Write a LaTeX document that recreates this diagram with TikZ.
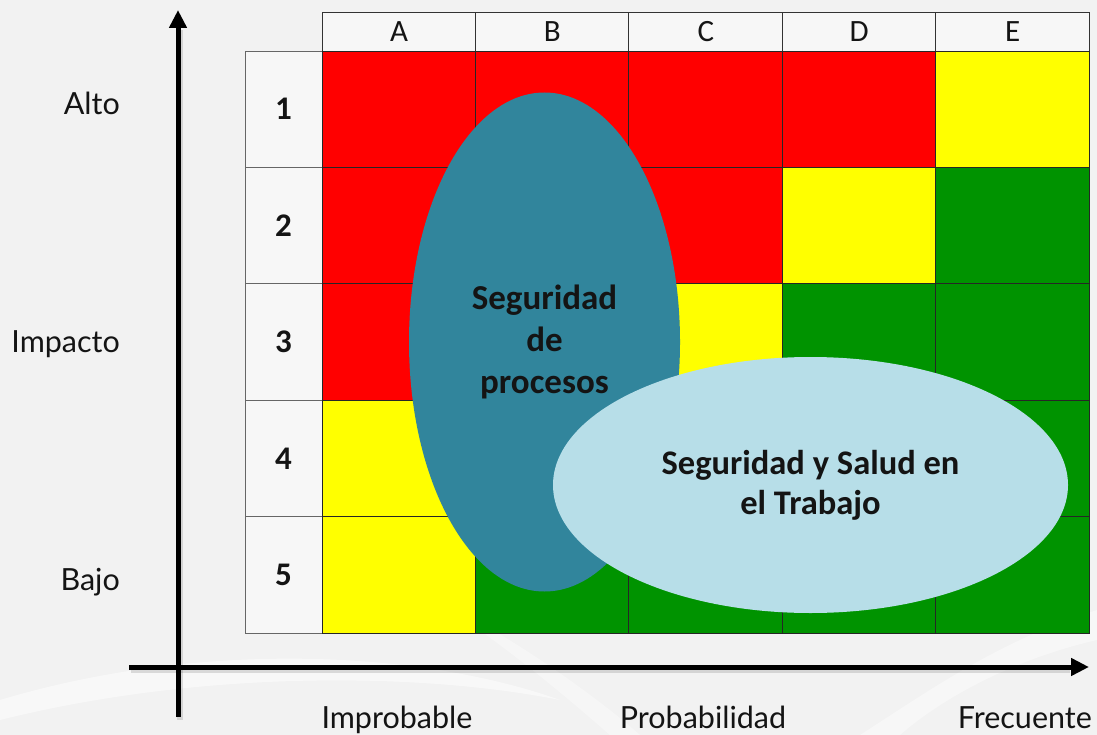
\documentclass[tikz,border=0pt]{standalone}
\usepackage{fontspec}
\setmainfont{Carlito}
\newfontfamily\labelfont{Lato}
\usetikzlibrary{shapes.geometric,arrows.meta}
\definecolor{bgc}{HTML}{F2F2F2}
\definecolor{cellbg}{HTML}{F7F7F7}
\definecolor{rd}{HTML}{FF0000}
\definecolor{yl}{HTML}{FFFF00}
\definecolor{gn}{HTML}{009300}
\definecolor{teal1}{HTML}{31859C}
\definecolor{lblue}{HTML}{B7DEE8}
\definecolor{txt}{HTML}{141414}
\begin{document}
\begin{tikzpicture}[x=1pt,y=-1pt,
  cell/.style={draw=black!85, line width=0.9pt, inner sep=0pt, outer sep=0pt,
    minimum width=153.4pt, minimum height=116.4pt, anchor=north west},
  headcell/.style={draw=black!80, line width=0.9pt, fill=cellbg, inner sep=0pt, outer sep=0pt,
    minimum width=153.4pt, minimum height=39pt, anchor=north west, text=txt},
  headtext/.style={inner sep=0pt, text=txt, anchor=base, font=\fontsize{31}{34}\selectfont},
  rowcell/.style={draw=black!60, line width=0.9pt, fill=cellbg, inner sep=0pt, outer sep=0pt,
    minimum width=77pt, minimum height=116.4pt, anchor=north west,
    font=\bfseries\fontsize{33}{36}\selectfont, text=txt},
  axisline/.style={line width=5pt, black, -{Triangle[length=18pt,width=17pt]}},
  axisshadow/.style={line width=6pt, black, opacity=0.12},
  lbl/.style={font=\labelfont\fontsize{30.5}{36}\selectfont, text=txt, inner sep=0pt},
  blob/.style={ellipse, inner sep=0pt, align=center, text=txt}
]
\useasboundingbox (0,0) rectangle (1097,735);
\fill[bgc] (0,0) rectangle (1097,735);
% faint background swooshes
\fill[white, opacity=0.5] (0,700) .. controls (200,640) and (420,650) .. (560,700) .. controls (420,672) and (200,670) .. (0,720) -- cycle;
\fill[white, opacity=0.35] (420,590) .. controls (520,640) and (600,700) .. (640,735) -- (610,735) .. controls (570,700) and (500,640) .. (420,590) -- cycle;
\fill[white, opacity=0.4] (860,735) .. controls (930,690) and (1000,640) .. (1097,610) -- (1097,640) .. controls (1010,660) and (940,700) .. (900,735) -- cycle;

% header cells
\foreach \hd [count=\i from 0] in {A,B,C,D,E}{
  \node[headcell] (h-\hd) at (322+153.4*\i,12) {};
  \node[headtext] (ht-\hd) at (399+153.4*\i,42) {\hd};
}

% row label cells and colored cells
\foreach \r/\list in {1/{rd,rd,rd,rd,yl},2/{rd,rd,rd,yl,gn},3/{rd,rd,yl,gn,gn},4/{yl,yl,gn,gn,gn},5/{yl,gn,gn,gn,gn}}{
  \node[rowcell] (r-\r) at (245,51+116.4*\r-116.4) {\r};
  \foreach \c [count=\i from 0] in \list
    \node[cell, fill=\c] (c-\r-\i) at (322+153.4*\i,51+116.4*\r-116.4) {};
}

% ellipses
\node[blob, fill=teal1, minimum width=271pt, minimum height=499pt,
  font=\bfseries\fontsize{35}{42}\selectfont] (e1) at (544.5,342)
  {Seguridad\\de\\procesos};
\node[blob, fill=lblue, minimum width=515pt, minimum height=256pt,
  font=\bfseries\fontsize{34.5}{40}\selectfont] (e2) at (810.5,485)
  {Seguridad y Salud en\\el Trabajo};

% axes
\coordinate (vb) at (178,717);
\coordinate (vt) at (178,10);
\coordinate (hl) at (129,667);
\coordinate (hr) at (1089,667);
\coordinate (vbs) at (180,720);
\coordinate (vts) at (180,30);
\coordinate (hls) at (131,670);
\coordinate (hrs) at (1070,670);
\draw[axisshadow] (vbs) -- (vts);
\draw[axisshadow] (hls) -- (hrs);
\draw[axisline] (vb) -- (vt);
\draw[axisline] (hl) -- (hr);

% labels
\node[lbl, anchor=base east] (alto) at (120,115) {Alto};
\node[lbl, anchor=base east] (impacto) at (120,352) {Impacto};
\node[lbl, anchor=base east] (bajo) at (120,590) {Bajo};
\node[lbl, anchor=base] (improbable) at (397,728) {Improbable};
\node[lbl, anchor=base] (probabilidad) at (703,728) {Probabilidad};
\node[lbl, anchor=base east] (frecuente) at (1092,728) {Frecuente};
\end{tikzpicture}
\end{document}
